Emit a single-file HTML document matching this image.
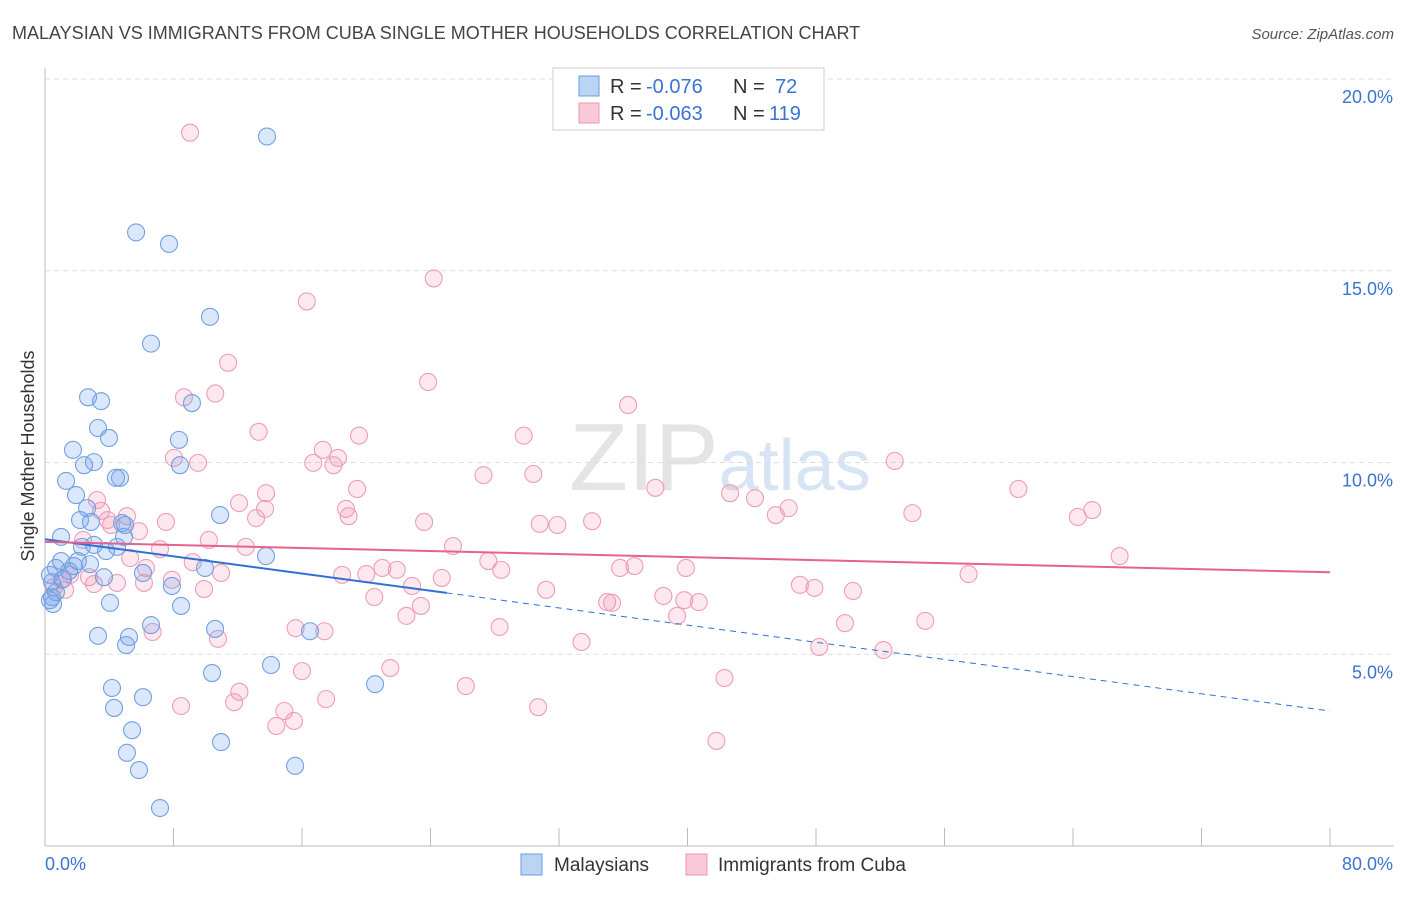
<!DOCTYPE html>
<html><head><meta charset="utf-8"><style>
body{margin:0;background:#fff;font-family:"Liberation Sans",sans-serif}
svg text{font-family:"Liberation Sans",sans-serif}
</style></head><body>
<svg id="chart" width="1406" height="892" xmlns="http://www.w3.org/2000/svg">
<text x="12" y="39" font-size="18" fill="#444">MALAYSIAN VS IMMIGRANTS FROM CUBA SINGLE MOTHER HOUSEHOLDS CORRELATION CHART</text>
<text x="1394" y="39" font-size="15" fill="#555" font-style="italic" text-anchor="end">Source: ZipAtlas.com</text>
<text x="720" y="490" font-size="96" fill="#e4e4e4" text-anchor="middle" font-family="Liberation Serif">ZIP<tspan fill="#d6e4f4" font-family="Liberation Sans" font-size="72">atlas</tspan></text>
<g id="grid"></g>
<g id="axes"></g>
<g id="pts"></g>
<g id="trends"></g>
<text transform="translate(34,456) rotate(-90)" font-size="18" fill="#333" text-anchor="middle">Single Mother Households</text>
<g>
<rect x="553" y="68" width="271" height="62" fill="#fff" stroke="#ccc"/>
<rect x="579" y="76" width="20" height="20" fill="#bcd4f4" stroke="#6a9be0"/>
<rect x="579" y="103" width="20" height="20" fill="#f9c9d8" stroke="#ec97b3"/>
<text x="610" y="93" font-size="20" fill="#333">R =</text>
<text x="646" y="93" font-size="20" fill="#3b73d1">-0.076</text>
<text x="733" y="93" font-size="20" fill="#333">N =</text>
<text x="775" y="93" font-size="20" fill="#3b73d1">72</text>
<text x="610" y="120" font-size="20" fill="#333">R =</text>
<text x="646" y="120" font-size="20" fill="#3b73d1">-0.063</text>
<text x="733" y="120" font-size="20" fill="#333">N =</text>
<text x="769" y="120" font-size="20" fill="#3b73d1">119</text>
</g>
<g>
<rect x="521" y="854" width="21" height="21" fill="#bcd4f4" stroke="#6a9be0"/>
<text x="554" y="871" font-size="19" fill="#333">Malaysians</text>
<rect x="686" y="854" width="21" height="21" fill="#f9c9d8" stroke="#ec97b3"/>
<text x="718" y="871" font-size="19" fill="#333">Immigrants from Cuba</text>
</g>
</svg>
<script>
const xTicks=[0,80];
const yTicks=[5,10,15,20];
const blueX=[13.82,5.67,7.72,10.27,6.6,2.68,3.49,9.15,3.3,3.98,8.34,1.74,3.05,2.43,8.4,4.42,4.67,1.31,1.93,2.62,10.9,2.18,2.86,4.8,4.98,1.0,4.92,3.05,2.3,4.48,3.8,13.76,1.0,2.05,2.8,1.8,0.68,9.96,1.5,6.1,0.31,3.67,1.12,0.44,7.9,0.68,0.44,0.31,4.05,0.5,8.47,6.6,10.59,16.5,3.3,5.23,5.05,14.07,10.4,20.55,4.17,6.1,4.3,5.42,10.96,5.1,5.85,15.57,7.16];
const blueY=[18.5,16.0,15.7,13.8,13.1,11.7,11.6,11.55,10.9,10.64,10.59,10.33,10.01,9.93,9.93,9.6,9.6,9.52,9.15,8.81,8.63,8.5,8.45,8.42,8.37,8.06,8.06,7.85,7.8,7.8,7.69,7.56,7.43,7.43,7.35,7.3,7.25,7.25,7.17,7.12,7.07,7.01,6.96,6.88,6.78,6.62,6.49,6.41,6.34,6.31,6.26,5.76,5.66,5.6,5.48,5.45,5.24,4.72,4.51,4.22,4.12,3.88,3.6,3.02,2.71,2.43,1.98,2.09,0.99];
const pinkX=[9.03,24.2,16.3,11.4,23.85,36.3,8.65,10.6,13.3,19.55,29.8,17.3,8.03,18.24,9.53,16.7,17.96,52.9,27.3,30.4,38.0,42.65,44.2,60.6,19.43,13.76,3.24,12.08,18.74,13.7,46.3,45.5,54.0,65.2,64.3,18.9,13.14,3.49,5.1,23.6,30.8,31.9,34.06,3.9,7.53,5.85,4.11,10.2,2.37,7.16,12.5,25.4,66.9,5.3,9.2,27.6,28.4,21.0,35.8,36.7,39.9,21.9,18.5,20.0,57.5,6.29,10.96,2.74,24.7,4.48,22.85,7.9,6.16,3.05,47.0,47.9,50.3,31.2,9.9,20.5,38.5,39.8,40.7,35.0,35.3,23.4,22.5,39.35,49.8,54.8,28.3,15.6,17.4,6.7,10.77,33.4,48.2,52.2,16.0,21.5,42.3,26.2,12.1,17.5,11.77,8.47,30.7,14.9,14.4,15.5,41.8,0.56,1.06,1.56,1.25];
const pinkY=[18.6,14.8,14.2,12.6,12.1,11.5,11.7,11.8,10.8,10.7,10.7,10.33,10.12,10.12,9.99,9.99,9.93,10.04,9.67,9.7,9.34,9.2,9.07,9.31,9.31,9.2,9.02,8.94,8.79,8.79,8.81,8.63,8.68,8.76,8.58,8.6,8.55,8.74,8.6,8.45,8.4,8.37,8.47,8.5,8.45,8.21,8.37,7.98,7.98,7.74,7.8,7.82,7.56,7.51,7.4,7.43,7.2,7.25,7.25,7.3,7.25,7.2,7.07,7.09,7.09,7.25,7.12,7.01,6.99,6.86,6.78,6.94,6.86,6.83,6.81,6.73,6.65,6.68,6.7,6.49,6.52,6.41,6.36,6.36,6.34,6.26,6.0,6.0,5.81,5.87,5.71,5.68,5.6,5.58,5.4,5.32,5.19,5.11,4.56,4.64,4.38,4.17,4.02,3.83,3.75,3.65,3.62,3.52,3.13,3.26,2.74,6.75,6.94,7.07,6.68];
const blueTrend=[8.0,-0.056];
const pinkTrend=[7.93,-0.0099];
const X0=45,X1=1330,Y0=846,PPY=38.35;
const sx=v=>X0+v/80*(X1-X0);
const sy=v=>Y0-v*PPY;
const NS='http://www.w3.org/2000/svg';
function mk(t,a,p){const e=document.createElementNS(NS,t);for(const k in a)e.setAttribute(k,a[k]);p.appendChild(e);return e;}
const grid=document.getElementById('grid'),axes=document.getElementById('axes'),pts=document.getElementById('pts'),tr=document.getElementById('trends');
yTicks.forEach(v=>{
 const l=mk('line',{x1:X0,x2:1394,y1:sy(v),y2:sy(v),stroke:'#ddd','stroke-dasharray':'5,4'},grid);
 
 
 const t=mk('text',{x:1393,y:sy(v)+24,'font-size':18,fill:'#3b73d1','text-anchor':'end'},axes);
 t.textContent=v.toFixed(1)+'%';
 
 
});
const ax=mk('line',{x1:X0,x2:X0,y1:68,y2:Y0,stroke:'#bbb'},axes);


const bx=mk('line',{x1:X0,x2:1394,y1:Y0,y2:Y0,stroke:'#bbb'},axes);


for(let i=1;i<=10;i++){const v=i*8;const tk=mk('line',{x1:sx(v),x2:sx(v),y1:828,y2:Y0,stroke:'#bbb'},axes);
 
 }
xTicks.forEach((v,i)=>{const t=mk('text',{x:i?1393:45,y:870,'font-size':18,fill:'#3b73d1','text-anchor':i?'end':'start'},axes);
 t.textContent=v.toFixed(1)+'%';
 
 });
pinkX.forEach((x,i)=>{const c=mk('circle',{cx:sx(x),cy:sy(pinkY[i]),r:8.5,fill:'rgba(240,140,170,0.2)',stroke:'#ee9db8','stroke-width':1.1},pts);
 
 });
blueX.forEach((x,i)=>{const c=mk('circle',{cx:sx(x),cy:sy(blueY[i]),r:8.5,fill:'rgba(110,160,235,0.25)',stroke:'#72a0e2','stroke-width':1.1},pts);
 
 });
const bEnd=25;
const b1=mk('line',{x1:sx(0),y1:sy(blueTrend[0]),x2:sx(bEnd),y2:sy(blueTrend[0]+blueTrend[1]*bEnd),stroke:'#2f6fd6','stroke-width':2},tr);


const b2=mk('line',{x1:sx(bEnd),y1:sy(blueTrend[0]+blueTrend[1]*bEnd),x2:sx(80),y2:sy(blueTrend[0]+blueTrend[1]*80),stroke:'#2f6fd6','stroke-width':1,'stroke-dasharray':'6,5'},tr);


const p1=mk('line',{x1:sx(0),y1:sy(pinkTrend[0]),x2:sx(80),y2:sy(pinkTrend[0]+pinkTrend[1]*80),stroke:'#e5628f','stroke-width':2},tr);


</script>
</body></html>
